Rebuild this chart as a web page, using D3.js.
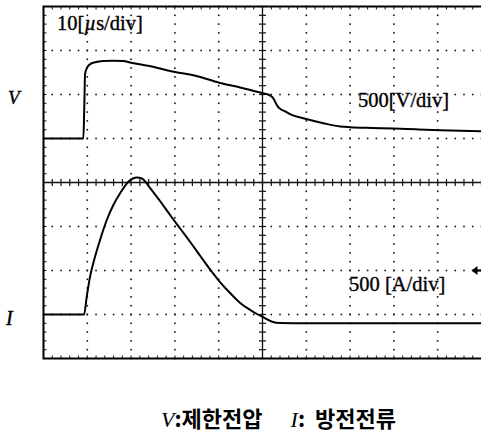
<!DOCTYPE html>
<html>
<head>
<meta charset="utf-8">
<script src="https://cdn.jsdelivr.net/npm/d3@7"></script>
<style>
  html, body { margin: 0; padding: 0; background: #fff; }
  svg { display: block; }
</style>
</head>
<body>
<svg id="scope" width="481" height="435"></svg>
<script>
// Sweep time (µs) and limiting voltage (V)
const voltTime = [0, 9.1, 9.3, 9.49, 9.94, 10.63, 11.77, 13.6, 15.9, 18.17, 20, 25, 28.9, 35.1, 40.1, 44.9, 49.5, 50.6, 51.8, 52.6, 53.1, 53.7, 55.1, 56.3, 60.2, 63.9, 67.8, 70, 75, 79.9, 85, 90.6, 100];
const voltValue = [0, 0, 333, 731, 805, 844, 867, 882, 884, 880, 861, 816, 768, 708, 634, 580, 523, 509, 486, 447, 395, 350, 310, 276, 219, 174, 136, 128, 120, 114, 104, 94, 83];

// Sweep time (µs) and discharge current (A)
const currTime = [0, 9.26, 9.87, 10.63, 11.77, 12.91, 14.45, 15.95, 17.49, 19.38, 20.4, 21.4, 22.45, 24.3, 26.6, 28.9, 31.2, 33.5, 35.8, 38.1, 40.3, 42.6, 44.9, 47.2, 49.9, 52.2, 54, 60, 70, 80, 90, 100];
const currValue = [0, 0, 202, 430, 657, 847, 1074, 1244, 1377, 1509, 1546, 1556, 1546, 1440, 1290, 1131, 977, 824, 665, 506, 369, 244, 131, 51, -25, -82, -97, -100, -100, -100, -100, -100];

// Screen divisions
const xDivs = [0, 1, 2, 3, 4, 5, 6, 7, 8, 9, 10];
const yDivs = [0, 1, 2, 3, 4, 5, 6, 7, 8];

// Trigger level on the current channel (A)
const triggerLevel = 500;

// Panel texts
const timeBaseLabel = ["10[", "µ", "s/div]"];
const voltScaleLabel = "500[V/div]";
const currScaleLabel = "500 [A/div]";
const voltTraceName = "V";
const currTraceName = "I";
const captionParts = [["V", ":제한전압"], ["I", ":  방전전류"]];

const svg = d3.select("#scope");
const L = 43.5, R = 481.5, T = 6.5, B = 358.5;

const x = d3.scaleLinear().domain([0, 100]).range([L, R]);
const xd = d3.scaleLinear().domain([0, 10]).range([L, R]);
const yd = d3.scaleLinear().domain([0, 8]).range([T, B]);
// 500 V/div with zero three divisions below the top edge
const yV = d3.scaleLinear().domain([1500, -2500]).range([T, B]);
// 500 A/div with zero seven divisions below the top edge
const yI = d3.scaleLinear().domain([3500, -500]).range([T, B]);

const grid = svg.append("g");
const minorX = d3.range(0, 10.001, 0.2);
const minorY = d3.range(0, 8.001, 0.2);

// Dotted graticule
xDivs.slice(1, 10).filter(d => d !== 5).forEach(d => {
  grid.selectAll(null).data(minorY).join("rect")
    .attr("x", xd(d) - 0.8).attr("y", v => yd(v) - 0.8)
    .attr("width", 1.6).attr("height", 1.6).attr("fill", "#111");
});
yDivs.slice(1, 8).filter(d => d !== 4).forEach(d => {
  grid.selectAll(null).data(minorX).join("rect")
    .attr("x", v => xd(v) - 0.8).attr("y", yd(d) - 0.8)
    .attr("width", 1.6).attr("height", 1.6).attr("fill", "#111");
});

// Centre cross with minor ticks
grid.append("line").attr("x1", L).attr("x2", R).attr("y1", yd(4)).attr("y2", yd(4))
  .attr("stroke", "#111").attr("stroke-width", 1.3);
grid.append("line").attr("x1", xd(5)).attr("x2", xd(5)).attr("y1", T).attr("y2", B)
  .attr("stroke", "#111").attr("stroke-width", 1.3);
grid.selectAll(null).data(minorX).join("line")
  .attr("x1", v => xd(v)).attr("x2", v => xd(v))
  .attr("y1", yd(4) - 3.5).attr("y2", yd(4) + 3.5)
  .attr("stroke", "#111").attr("stroke-width", 1.2);
grid.selectAll(null).data(minorY).join("line")
  .attr("y1", v => yd(v)).attr("y2", v => yd(v))
  .attr("x1", xd(5) - 3.5).attr("x2", xd(5) + 3.5)
  .attr("stroke", "#111").attr("stroke-width", 1.2);

// Edge ticks
grid.selectAll(null).data(minorX).join("line")
  .attr("x1", v => xd(v)).attr("x2", v => xd(v))
  .attr("y1", T).attr("y2", T + 3)
  .attr("stroke", "#111").attr("stroke-width", 1);
grid.selectAll(null).data(minorX).join("line")
  .attr("x1", v => xd(v)).attr("x2", v => xd(v))
  .attr("y1", B).attr("y2", B - 3)
  .attr("stroke", "#111").attr("stroke-width", 1);
grid.selectAll(null).data(minorY).join("line")
  .attr("y1", v => yd(v)).attr("y2", v => yd(v))
  .attr("x1", L).attr("x2", L + 3)
  .attr("stroke", "#111").attr("stroke-width", 1);

// Frame
grid.append("path")
  .attr("d", `M${R},${T}H${L}V${B}H${R}`)
  .attr("fill", "none").attr("stroke", "#000").attr("stroke-width", 2);

// Traces
const lineV = d3.line().x((d, i) => x(voltTime[i])).y(d => yV(d)).curve(d3.curveMonotoneX);
const lineI = d3.line().x((d, i) => x(currTime[i])).y(d => yI(d)).curve(d3.curveMonotoneX);
svg.append("path").attr("d", lineV(voltValue))
  .attr("fill", "none").attr("stroke", "#000").attr("stroke-width", 2).attr("stroke-linejoin", "round");
svg.append("path").attr("d", lineI(currValue))
  .attr("fill", "none").attr("stroke", "#000").attr("stroke-width", 2).attr("stroke-linejoin", "round");

// Trigger level marker at the right edge
const trig = svg.append("g").attr("transform", `translate(471.5,${yI(triggerLevel)})`);
trig.append("path").attr("d", "M0,0L6,-4.5L6,4.5Z").attr("fill", "#000");
trig.append("line").attr("x1", 5).attr("x2", 10).attr("y1", 0).attr("y2", 0)
  .attr("stroke", "#000").attr("stroke-width", 2.2);

// Labels
const serif = "'Liberation Serif', 'DejaVu Serif', serif";
const tb = svg.append("text").attr("x", 57).attr("y", 30)
  .attr("font-family", serif).attr("font-size", 20.5).attr("fill", "#000")
  .attr("stroke", "#000").attr("stroke-width", 0.35);
tb.append("tspan").text(timeBaseLabel[0]);
tb.append("tspan").attr("font-style", "italic").text(timeBaseLabel[1]);
tb.append("tspan").text(timeBaseLabel[2]);

svg.append("text").attr("x", 358).attr("y", 106.5)
  .attr("font-family", serif).attr("font-size", 20.5).attr("fill", "#000")
  .attr("stroke", "#000").attr("stroke-width", 0.35).text(voltScaleLabel);
svg.append("text").attr("x", 349).attr("y", 290.5)
  .attr("font-family", serif).attr("font-size", 20.5).attr("fill", "#000")
  .attr("stroke", "#000").attr("stroke-width", 0.35).text(currScaleLabel);

svg.append("text").attr("x", 8).attr("y", 104)
  .attr("font-family", serif).attr("font-size", 19).attr("font-style", "italic").attr("fill", "#000")
  .attr("stroke", "#000").attr("stroke-width", 0.4).text(voltTraceName);
svg.append("text").attr("x", 6).attr("y", 325)
  .attr("font-family", serif).attr("font-size", 20).attr("font-style", "italic").attr("fill", "#000")
  .attr("stroke", "#000").attr("stroke-width", 0.4).text(currTraceName);

// Caption
const cap = svg.append("text").attr("x", 161).attr("y", 427)
  .attr("font-family", "'Noto Sans CJK KR', sans-serif").attr("font-size", 22)
  .attr("font-weight", "bold").attr("fill", "#000");
captionParts.forEach((p, i) => {
  cap.append("tspan").attr("dx", i === 0 ? 0 : 28)
    .attr("font-family", serif).attr("font-style", "italic").attr("font-weight", "normal").text(p[0]);
  cap.append("tspan").attr("xml:space", "preserve").style("white-space", "pre").text(p[1]);
});
</script>
</body>
</html>
